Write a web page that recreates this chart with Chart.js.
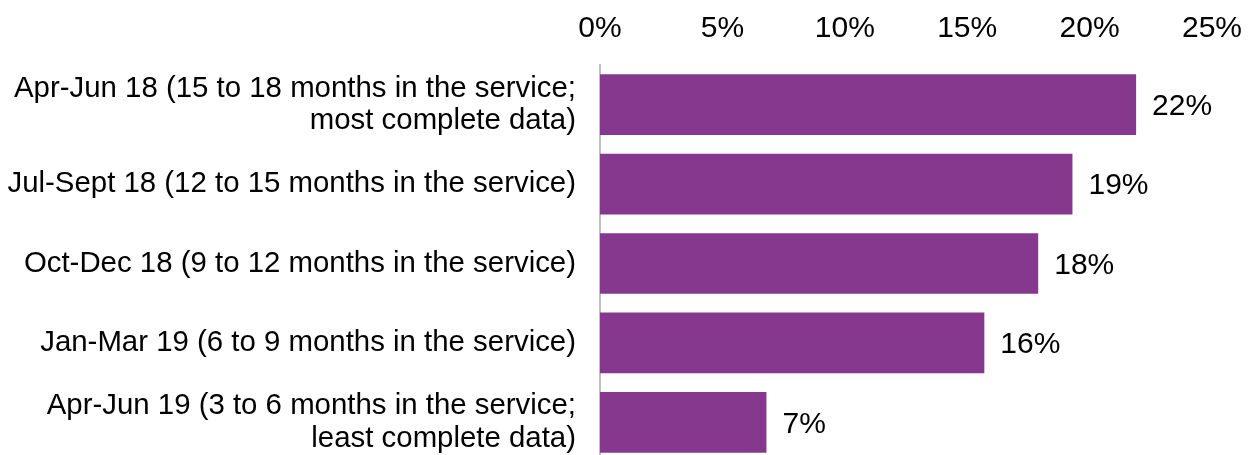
<!DOCTYPE html>
<html>
<head>
<meta charset="utf-8">
<script src="https://cdn.jsdelivr.net/npm/chart.js@4.4.0/dist/chart.umd.min.js"></script>
<style>
  html, body { margin: 0; padding: 0; background: #fff; overflow: hidden; }
  canvas { display: block; }
</style>
</head>
<body>
<canvas id="myChart" width="1256" height="462"></canvas>
<script>
// categories (two-line ones are arrays)
var categories = [
    ["Apr-Jun 18 (15 to 18 months in the service;", "most complete data)"],
    "Jul-Sept 18 (12 to 15 months in the service)",
    "Oct-Dec 18 (9 to 12 months in the service)",
    "Jan-Mar 19 (6 to 9 months in the service)",
    ["Apr-Jun 19 (3 to 6 months in the service;", "least complete data)"]
];
// share, in percent
var valores = [21.9, 19.3, 17.9, 15.7, 6.8];
var etiquetas = ["22%", "19%", "18%", "16%", "7%"];
var ticksX = [0, 5, 10, 15, 20, 25];

// draws the value text at the end of each bar
const etiquetasPlugin = {
    id: 'etiquetas',
    afterDatasetsDraw(chart) {
        const ctx = chart.ctx;
        const meta = chart.getDatasetMeta(0);
        ctx.save();
        ctx.font = '30px "Liberation Sans", Arial, sans-serif';
        ctx.fillStyle = '#000';
        ctx.textAlign = 'left';
        ctx.textBaseline = 'middle';
        meta.data.forEach(function (bar, i) {
            ctx.fillText(etiquetas[i], bar.x + 16, bar.y + 2);
        });
        ctx.restore();
    }
};

const data = {
    labels: categories,
    datasets: [{
        label: 'share',
        data: valores,
        backgroundColor: '#86388F',
        borderWidth: 0,
        categoryPercentage: 1,
        barPercentage: 0.765
    }]
};

const config = {
    type: 'bar',
    data: data,
    options: {
        indexAxis: 'y',
        responsive: false,
        animation: false,
        layout: { padding: { right: 44, left: 0, top: 0, bottom: 0 } },
        plugins: {
            legend: { display: false },
            tooltip: { enabled: false }
        },
        scales: {
            x: {
                position: 'top',
                min: 0,
                max: 25,
                afterBuildTicks: function (scale) {
                    scale.ticks = ticksX.map(function (v) { return { value: v }; });
                },
                afterFit: function (scale) {
                    scale.height = 65;
                    scale.paddingLeft = 0;
                    scale.paddingRight = 0;
                },
                grid: { display: false, drawTicks: false },
                border: { display: false },
                ticks: {
                    padding: 18,
                    color: '#000',
                    font: { size: 30, family: '"Liberation Sans", Arial, sans-serif' },
                    callback: function (v) { return v + '%'; }
                }
            },
            y: {
                afterFit: function (scale) {
                    scale.width = 600;
                    scale.paddingTop = 0;
                    scale.paddingBottom = 0;
                },
                grid: { display: false, drawTicks: false },
                border: { display: true, color: '#bfbfbf', width: 2 },
                ticks: {
                    padding: 24,
                    color: '#000',
                    font: { size: 29.4, family: '"Liberation Sans", Arial, sans-serif', lineHeight: 1.1 }
                }
            }
        }
    },
    plugins: [etiquetasPlugin]
};

const myChart = new Chart(document.getElementById('myChart'), config);
</script>
</body>
</html>
